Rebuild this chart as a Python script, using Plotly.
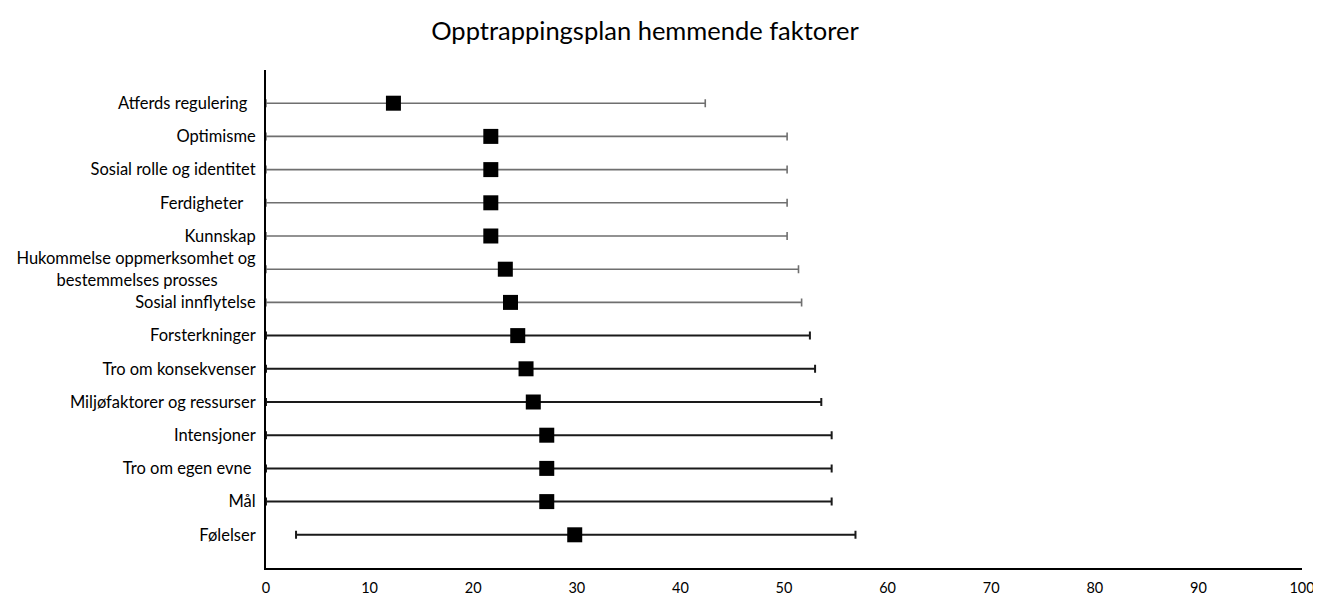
import plotly.graph_objects as go

title = "Opptrappingsplan hemmende faktorer"
categories = [
    "Atferds regulering\u00a0\u00a0",
    "Optimisme",
    "Sosial rolle og identitet",
    "Ferdigheter\u00a0\u00a0\u00a0",
    "Kunnskap",
    "Hukommelse oppmerksomhet og<br>bestemmelses prosses" + "\u00a0" * 9,
    "Sosial innflytelse",
    "Forsterkninger",
    "Tro om konsekvenser",
    "Miljøfaktorer og ressurser",
    "Intensjoner",
    "Tro om egen evne\u00a0",
    "Mål",
    "Følelser",
]
means = [12.3, 21.7, 21.7, 21.7, 21.7, 23.1, 23.6, 24.3, 25.1, 25.8, 27.1, 27.1, 27.1, 29.8]
lower = [0, 0, 0, 0, 0, 0, 0, 0, 0, 0, 0, 0, 0, 2.9]
upper = [42.4, 50.3, 50.3, 50.3, 50.3, 51.4, 51.7, 52.5, 53.0, 53.6, 54.6, 54.6, 54.6, 56.9]
x_ticks = [0, 10, 20, 30, 40, 50, 60, 70, 80, 90, 100]

n = len(categories)
ypos = [n - 1 - i for i in range(n)]

W, H = 1313, 591  # page adds an 8px body margin

fig = go.Figure()
for i in range(n):
    gray = i < 7
    col = "#6f6f6f" if gray else "#1a1a1a"
    fig.add_trace(go.Scatter(
        x=[means[i]], y=[ypos[i]], mode="markers",
        marker=dict(symbol="square", size=15, color="black"),
        error_x=dict(type="data", symmetric=False,
                     array=[upper[i] - means[i]],
                     arrayminus=[means[i] - lower[i]],
                     color=col, thickness=1.6 if gray else 2.0, width=4),
        showlegend=False, hoverinfo="x+y",
    ))

fig.update_layout(
    width=W, height=H,
    paper_bgcolor="white", plot_bgcolor="white",
    margin=dict(l=258, r=19, t=62, b=31),
    title=dict(text=title, x=637 / W, xanchor="center", y=1 - 23 / H, yanchor="middle",
               font=dict(family="Lato", size=25.5, color="black")),
    font=dict(family="Lato", size=16.5, color="black"),
    xaxis=dict(range=[0, 100], tickvals=x_ticks, ticks="", showgrid=False, zeroline=False,
               showline=True, linecolor="black", linewidth=2, ticklabelstandoff=6,
               tickfont=dict(size=14.5), automargin=False, fixedrange=True),
    yaxis=dict(range=[-1, 14], tickvals=ypos, ticktext=categories, ticks="", showgrid=False,
               zeroline=False, showline=True, linecolor="black", linewidth=2,
               ticklabelstandoff=5, automargin=False, fixedrange=True),
)
fig.write_html("out.html")
